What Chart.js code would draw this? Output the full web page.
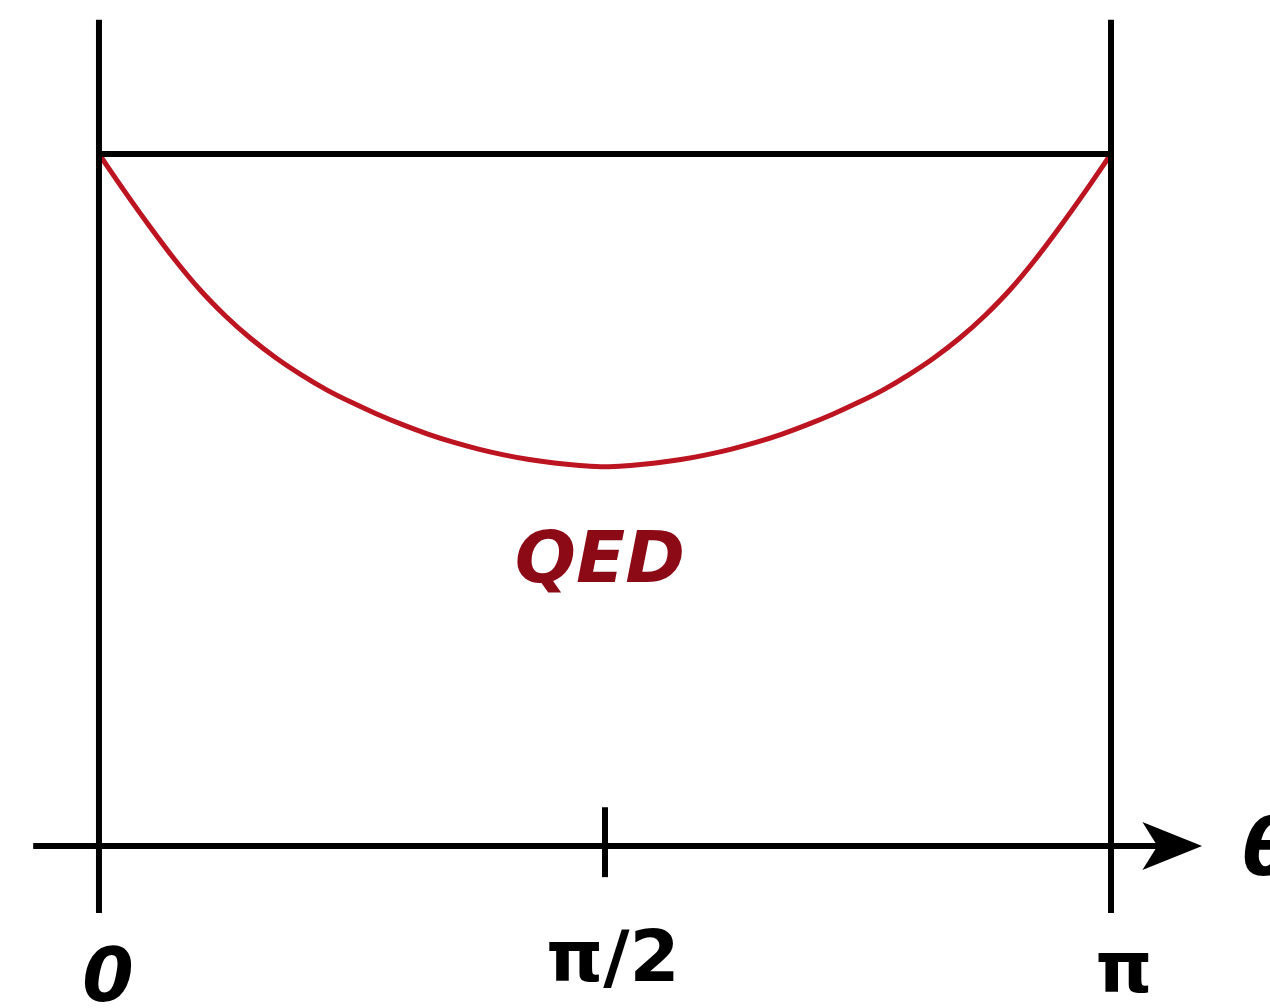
<!DOCTYPE html>
<html lang="en">
<head>
    <meta charset="UTF-8">
    <title>QED</title>
    <script src="https://cdn.jsdelivr.net/npm/chart.js"></script>
    <style>
        body { margin: 0; background: #fff; }
        #wrap { width: 1270px; height: 1008px; }
    </style>
</head>
<body>
<div id="wrap"><canvas id="qedChart"></canvas></div>

<script>
// theta in units of pi (step 0.025), curve height relative to the top line (1) and the theta axis (0)
const thetaVals = [0, 0.025, 0.05, 0.075, 0.1, 0.125, 0.15, 0.175, 0.2, 0.225, 0.25,
                   0.275, 0.3, 0.325, 0.35, 0.375, 0.4, 0.425, 0.45, 0.475, 0.5,
                   0.525, 0.55, 0.575, 0.6, 0.625, 0.65, 0.675, 0.7, 0.725, 0.75,
                   0.775, 0.8, 0.825, 0.85, 0.875, 0.9, 0.925, 0.95, 0.975, 1];
const qedVals = [1, 0.9467, 0.8956, 0.8472, 0.8034, 0.7659, 0.7333, 0.7053, 0.6809, 0.6592, 0.6407,
                 0.6239, 0.6088, 0.5952, 0.5835, 0.5735, 0.5652, 0.5584, 0.5534, 0.5500, 0.5480,
                 0.5500, 0.5534, 0.5584, 0.5652, 0.5735, 0.5835, 0.5952, 0.6088, 0.6239, 0.6407,
                 0.6592, 0.6809, 0.7053, 0.7333, 0.7659, 0.8034, 0.8472, 0.8956, 0.9467, 1];
const tickPos = [0, 0.5, 1];
const tickLabels = ['0', 'π/2', 'π'];
const curveLabel = 'QED';
const axisLabel = 'θ';

const black = '#000';
const curveRed = '#bc1420';
const labelRed = '#8c0a16';

function seg(x0, y0, x1, y1) {
    return {
        data: [{x: x0, y: y0}, {x: x1, y: y1}],
        borderColor: black, borderWidth: 6, pointRadius: 0, borderCapStyle: 'butt'
    };
}

// tick label styling: [font, x shift px, baseline value]
const tickStyle = [
    ['italic bold 74px "DejaVu Sans"', 9, -0.224],
    ['bold 72px "DejaVu Sans"', 8, -0.195],
    ['bold 72px "DejaVu Sans"', 13, -0.211]
];

// arrowhead, labels
const decor = {
    id: 'decor',
    afterDatasetsDraw(chart) {
        const {ctx, scales: {x, y}} = chart;
        const y0 = y.getPixelForValue(0);
        const tip = x.getPixelForValue(1.090);
        const back = x.getPixelForValue(1.031);
        ctx.save();
        ctx.fillStyle = black;
        ctx.beginPath();
        ctx.moveTo(tip, y0);
        ctx.lineTo(back, y0 - 24);
        ctx.lineTo(back + 15, y0);
        ctx.lineTo(back, y0 + 24);
        ctx.closePath();
        ctx.fill();

        ctx.textAlign = 'center';
        ctx.textBaseline = 'alphabetic';
        tickPos.forEach((t, i) => {
            const [font, dx, base] = tickStyle[i];
            ctx.font = font;
            ctx.fillText(tickLabels[i], x.getPixelForValue(t) + dx, y.getPixelForValue(base));
        });

        ctx.textAlign = 'left';
        ctx.font = 'italic bold 78px "DejaVu Sans"';
        ctx.fillText(axisLabel, x.getPixelForValue(1.130), y.getPixelForValue(-0.042));

        ctx.textAlign = 'center';
        ctx.fillStyle = labelRed;
        ctx.font = 'italic bold 72px "DejaVu Sans"';
        ctx.fillText(curveLabel, x.getPixelForValue(0.495), y.getPixelForValue(0.382));
        ctx.restore();
    }
};

new Chart(document.getElementById('qedChart'), {
    type: 'line',
    data: {
        datasets: [
            seg(0, 1, 1, 1),
            seg(0, -0.097, 0, 1.194),
            seg(1, -0.097, 1, 1.194),
            seg(-0.065, 0, 1.05, 0),
            seg(0.5, -0.045, 0.5, 0.056),
            {
                data: thetaVals.map((t, i) => ({x: t, y: qedVals[i]})),
                borderColor: curveRed,
                borderWidth: 5,
                pointRadius: 0,
                cubicInterpolationMode: 'monotone'
            }
        ]
    },
    options: {
        responsive: true,
        maintainAspectRatio: false,
        animation: false,
        layout: { padding: 0 },
        plugins: { legend: { display: false }, tooltip: { enabled: false } },
        scales: {
            x: { type: 'linear', display: false, min: -0.0978, max: 1.1571 },
            y: { type: 'linear', display: false, min: -0.2341, max: 1.2225 }
        }
    },
    plugins: [decor]
});
</script>
</body>
</html>
